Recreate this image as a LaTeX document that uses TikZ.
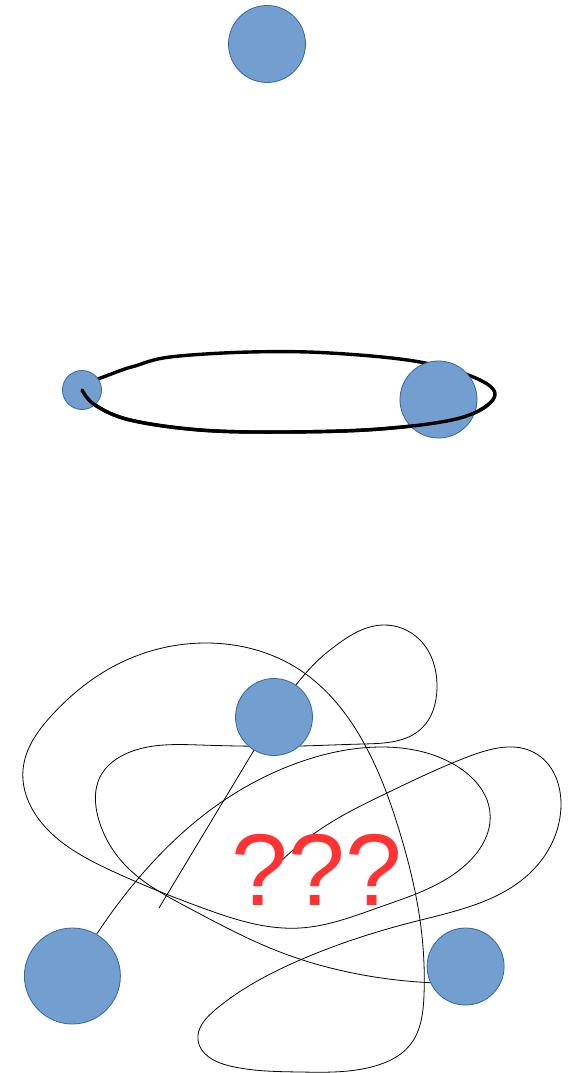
\documentclass[tikz,border=0pt]{standalone}
\usepackage{fontspec}
\usetikzlibrary{hobby}
\newfontfamily\qfont{Liberation Sans}
\definecolor{ballfill}{HTML}{729FCF}
\definecolor{balledge}{HTML}{3465A4}
\definecolor{qred}{HTML}{FF3333}
\tikzset{
  ball/.style={circle, fill=ballfill, draw=balledge, line width=0.8pt, inner sep=0pt},
  orbit/.style={line width=3.4pt, line cap=round, line join=round},
  tangle/.style={line width=0.8pt, line cap=round, use Hobby shortcut}
}
\newcommand{\orbitpath}{plot[smooth, tension=0.6] coordinates {(82,390) (95,405) (130,420) (200,430) (283,432) (380,429) (460,418) (494,398) (480,380) (420,362) (330,353) (250,352) (170,357) (135,366) (122,370) (98,379)}}
\begin{document}
\begin{tikzpicture}[x=1pt,y=-1pt]
\useasboundingbox (0,0) rectangle (571,1073);
% top scene
\node[ball, minimum size=77pt] (top) at (267,44) {};
% orbit scene
\draw[orbit] \orbitpath;
\node[ball, minimum size=39pt] (small) at (82,390) {};
\node[ball, minimum size=77pt] (big) at (438.5,399.5) {};
\begin{scope}
\clip (0,400) rectangle (571,450) (0,384) rectangle (120,450);
\draw[orbit] \orbitpath;
\end{scope}
% tangle scene
\coordinate (c1s) at (285,700);
\coordinate (c1e) at (438,983);
\coordinate (c2e) at (159,908);
\coordinate (c3s) at (72,976);
\coordinate (c3e) at (274,868);
\draw[tangle] (c1s) .. (330,650) .. (383,625) .. (420,640) .. (437,688) .. (422,728) .. (363,744) .. (300,746) .. (200,745) .. (130,752) .. (100,777) .. (98,817) .. (127,867) .. (187,907) .. (280,952) .. (363,975) .. (c1e);
\draw[tangle] (274,717) -- (c2e);
\draw[tangle] (c3s) .. (137,880) .. (213,808) .. (300,762) .. (380,747) .. (455,765) .. (490,813) .. (462,868) .. (380,907) .. (300,928) .. (200,907) .. (110,870) .. (48,830) .. (23,770) .. (52,715) .. (120,663) .. (207,643) .. (300,670) .. (365,745) .. (400,833) .. (420,920) .. (424,995) .. (410,1045) .. (375,1066) .. (300,1072) .. (230,1066) .. (198,1040) .. (215,1010) .. (300,960) .. (413,922) .. (533,870) .. (561,805) .. (535,753) .. (470,756) .. (387,793) .. (330,823) .. (c3e);
\node[ball, minimum size=77pt] (tt) at (274,717) {};
\node[ball, minimum size=96pt] (bl) at (72.4,976) {};
\node[ball, minimum size=77pt] (br) at (465.6,966.5) {};
\node[anchor=base, inner sep=0pt, text=qred, font=\qfont\fontsize{102}{102}\selectfont] (q) at (317,905) {???};
\end{tikzpicture}
\end{document}
